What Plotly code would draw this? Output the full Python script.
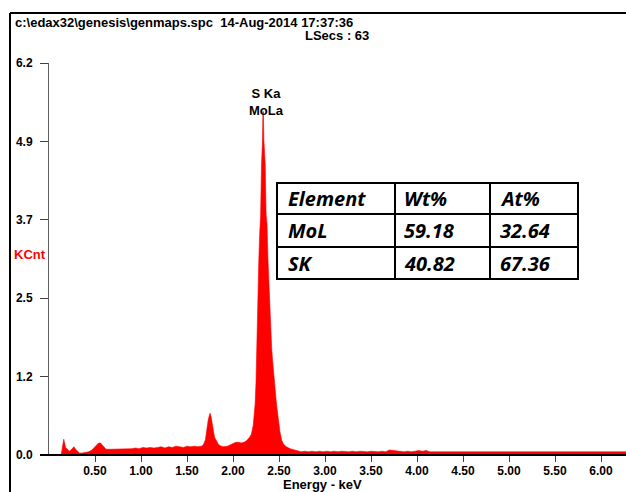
import plotly.graph_objects as go

# EDS spectrum (channel energy in keV, intensity in KCnt)
energy_kev = [
    0.00, 0.13, 0.14, 0.15, 0.16, 0.17, 0.18, 0.20, 0.22, 0.24, 0.26, 0.27, 0.29, 0.31, 0.33, 0.36,
    0.40, 0.43, 0.46, 0.49, 0.52, 0.54, 0.56, 0.58, 0.60, 0.62, 0.66, 0.70, 0.74, 0.78, 0.82, 0.86,
    0.90, 0.94, 0.98, 1.02, 1.06, 1.10, 1.14, 1.18, 1.22, 1.26, 1.30, 1.34, 1.38, 1.42, 1.46, 1.50,
    1.54, 1.58, 1.62, 1.66, 1.68, 1.70, 1.71, 1.72, 1.73, 1.74, 1.75, 1.76, 1.77, 1.78, 1.79, 1.80,
    1.82, 1.84, 1.87, 1.90, 1.94, 1.97, 2.00, 2.03, 2.06, 2.09, 2.12, 2.15, 2.18, 2.20, 2.22, 2.23,
    2.24, 2.25, 2.26, 2.27, 2.28, 2.29, 2.30, 2.31, 2.32, 2.325, 2.33, 2.335, 2.34, 2.35, 2.36, 2.37,
    2.38, 2.39, 2.40, 2.41, 2.42, 2.43, 2.44, 2.45, 2.46, 2.47, 2.48, 2.49, 2.50, 2.51, 2.52, 2.53,
    2.55, 2.58, 2.62, 2.66, 2.70,
    2.74, 2.78, 2.82, 2.86, 2.90, 2.94, 2.98, 3.02, 3.06, 3.10, 3.14, 3.18, 3.22, 3.26, 3.30, 3.34,
    3.38, 3.42, 3.46, 3.50, 3.54, 3.58, 3.62, 3.66, 3.70, 3.74, 3.78, 3.82, 3.86, 3.90, 3.94, 3.98,
    4.02, 4.06, 4.10, 4.14, 4.18, 4.22, 4.26, 4.30, 4.34, 4.38, 4.42, 4.46, 4.50, 4.54, 4.58, 4.62,
    4.66, 4.70, 4.74, 4.78, 4.82, 4.86, 4.90, 4.94, 4.98, 5.02, 5.06, 5.10, 5.14, 5.18, 5.22, 5.26,
    5.30, 5.34, 5.38, 5.42, 5.46, 5.50, 5.54, 5.58, 5.62, 5.66, 5.70, 5.74, 5.78, 5.82, 5.86, 5.90,
    5.94, 5.98, 6.02, 6.06, 6.10, 6.14, 6.18, 6.22, 6.26, 6.28,
]
kcnt = [
    0.00, 0.00, 0.07, 0.20, 0.25, 0.19, 0.12, 0.09, 0.06, 0.08, 0.12, 0.13, 0.09, 0.05, 0.03, 0.03,
    0.04, 0.05, 0.07, 0.11, 0.16, 0.19, 0.19, 0.15, 0.11, 0.09, 0.09, 0.09, 0.10, 0.09, 0.10, 0.09,
    0.10, 0.11, 0.10, 0.12, 0.11, 0.12, 0.11, 0.12, 0.13, 0.11, 0.13, 0.12, 0.14, 0.13, 0.12, 0.14,
    0.13, 0.14, 0.13, 0.14, 0.17, 0.24, 0.38, 0.50, 0.55, 0.61, 0.66, 0.62, 0.55, 0.45, 0.36, 0.28,
    0.21, 0.17, 0.14, 0.13, 0.14, 0.16, 0.18, 0.20, 0.20, 0.19, 0.20, 0.23, 0.28, 0.33, 0.47, 0.60,
    0.80, 1.15, 1.90, 2.60, 3.05, 3.50, 3.78, 4.60, 4.95, 5.43, 5.43, 5.00, 4.90, 4.60, 3.80, 3.65,
    3.10, 2.75, 2.25, 1.95, 1.70, 1.50, 1.30, 1.15, 1.00, 0.85, 0.72, 0.57, 0.46, 0.37, 0.30, 0.23,
    0.17, 0.13, 0.10, 0.08, 0.06,
    0.05, 0.06, 0.05, 0.06, 0.05, 0.06, 0.05, 0.06, 0.05, 0.06, 0.05, 0.06, 0.05, 0.05, 0.06, 0.05,
    0.06, 0.05, 0.05, 0.06, 0.05, 0.05, 0.06, 0.05, 0.08, 0.07, 0.06, 0.05, 0.05, 0.06, 0.05, 0.06,
    0.07, 0.06, 0.07, 0.05, 0.05, 0.04, 0.05, 0.04, 0.05, 0.05, 0.04, 0.05, 0.04, 0.05, 0.04, 0.05,
    0.04, 0.05, 0.04, 0.04, 0.05, 0.04, 0.04, 0.05, 0.04, 0.04, 0.05, 0.04, 0.04, 0.05, 0.04, 0.04,
    0.05, 0.04, 0.04, 0.05, 0.04, 0.04, 0.05, 0.04, 0.04, 0.05, 0.04, 0.04, 0.04, 0.05, 0.04, 0.04,
    0.04, 0.05, 0.04, 0.04, 0.05, 0.05, 0.04, 0.05, 0.05, 0.05,
]

# Axis ticks
x_tickvals = [0.5, 1.0, 1.5, 2.0, 2.5, 3.0, 3.5, 4.0, 4.5, 5.0, 5.5, 6.0]
x_ticktext = ["0.50", "1.00", "1.50", "2.00", "2.50", "3.00", "3.50", "4.00", "4.50", "5.00", "5.50", "6.00"]
y_tickvals = [0.0, 1.24, 2.48, 3.72, 4.96, 6.2]
y_ticktext = ["0.0", "1.2", "2.5", "3.7", "4.9", "6.2"]

# Quantification table
table_header = ["Element", "Wt%", "At%"]
table_elements = ["MoL", "SK"]
table_wt = ["59.18", "40.82"]
table_at = ["32.64", "67.36"]

# Peak identification
peak_energy = 2.33
peak_label = "S Ka<br>MoLa"

W, H = 626, 492
L, R, T, B = 49, 0, 63, 37
PW, PH = W - L - R, H - T - B
X_MAX = PW / 92.0  # 92 px per keV


def px(x):
    return (x - L) / PW


def py(y):
    return (H - B - y) / PH


LABEL_FONT = dict(family="Liberation Sans", size=13, color="black", weight="bold")
TICK_FONT = dict(family="Liberation Sans", size=12, color="black", weight="bold")

fig = go.Figure()
fig.add_trace(go.Scatter(
    x=energy_kev, y=kcnt, mode="lines", fill="tozeroy",
    line=dict(color="#ff0000", width=0.6), fillcolor="#ff0000",
    hoverinfo="skip", showlegend=False,
))

shapes = []
# outer frame (left and top edges)
shapes.append(dict(type="line", xref="paper", yref="paper", x0=px(10), x1=px(10), y0=py(13), y1=py(H + 5),
                   line=dict(color="black", width=2)))
shapes.append(dict(type="line", xref="paper", yref="paper", x0=px(10), x1=px(W + 5), y0=py(13), y1=py(13),
                   line=dict(color="black", width=2)))
# baseline extension to the left of the y axis
shapes.append(dict(type="line", xref="paper", yref="paper", x0=px(40), x1=px(W + 5), y0=py(455), y1=py(455),
                   line=dict(color="black", width=2)))

# table grid
tx = [277, 395, 490, 578]
ty = [183, 214, 247, 279]
shapes.append(dict(type="rect", xref="paper", yref="paper", x0=px(tx[0]), x1=px(tx[3]), y0=py(ty[0]), y1=py(ty[3]),
                   line=dict(color="black", width=2), fillcolor="white", layer="above"))
for xv in tx[1:3]:
    shapes.append(dict(type="line", xref="paper", yref="paper", x0=px(xv), x1=px(xv), y0=py(ty[0]), y1=py(ty[3]),
                       line=dict(color="black", width=2)))
for yv in ty[1:3]:
    shapes.append(dict(type="line", xref="paper", yref="paper", x0=px(tx[0]), x1=px(tx[3]), y0=py(yv), y1=py(yv),
                       line=dict(color="black", width=2)))

annotations = []
TABLE_FONT = dict(family="Open Sans", size=20, color="black", weight="bold", style="italic")
col_left = [286, 402, 498]
rows = [table_header] + [[e, w, a] for e, w, a in zip(table_elements, table_wt, table_at)]
for r, row in enumerate(rows):
    yc = (ty[r] + ty[r + 1]) / 2
    for c, txt in enumerate(row):
        annotations.append(dict(text=txt, xref="paper", yref="paper", x=px(col_left[c]), y=py(yc),
                                xanchor="left", yanchor="middle", showarrow=False, font=TABLE_FONT))

# header texts
annotations.append(dict(text="c:\\edax32\\genesis\\genmaps.spc  14-Aug-2014 17:37:36", xref="paper", yref="paper",
                        x=px(13), y=py(22), xanchor="left", yanchor="middle", showarrow=False, font=LABEL_FONT))
annotations.append(dict(text="LSecs : 63", xref="paper", yref="paper", x=px(371), y=py(35),
                        xanchor="right", yanchor="middle", showarrow=False, font=LABEL_FONT))
annotations.append(dict(text="KCnt", xref="paper", yref="paper", x=px(12), y=py(254),
                        xanchor="left", yanchor="middle", showarrow=False,
                        font=dict(family="Liberation Sans", size=13, color="#ff0000", weight="bold")))
annotations.append(dict(text="Energy - keV", xref="paper", yref="paper", x=px(322), y=py(485),
                        xanchor="center", yanchor="middle", showarrow=False, font=LABEL_FONT))
annotations.append(dict(text=peak_label, x=peak_energy, y=5.43, xref="x", yref="y",
                        xanchor="center", yanchor="bottom", yshift=-8, xshift=3, showarrow=False, align="center",
                        font=LABEL_FONT))

fig.update_layout(
    width=W, height=H,
    margin=dict(l=L, r=R, t=T, b=B, pad=0),
    paper_bgcolor="white", plot_bgcolor="white",
    shapes=shapes, annotations=annotations,
    showlegend=False,
)
fig.update_xaxes(
    range=[0, X_MAX], tickvals=x_tickvals, ticktext=x_ticktext,
    ticks="outside", ticklen=6, tickwidth=1, tickcolor="#404040",
    showline=False, showgrid=False, zeroline=False, ticklabelstandoff=-1,
    tickfont=TICK_FONT,
)
fig.update_yaxes(
    range=[0, 6.2], tickvals=y_tickvals, ticktext=y_ticktext,
    ticks="outside", ticklen=8, tickwidth=1, tickcolor="#404040",
    showline=True, linecolor="#606060", linewidth=1,
    showgrid=False, zeroline=False, ticklabelstandoff=5,
    tickfont=TICK_FONT,
)

fig.write_html("out.html")
